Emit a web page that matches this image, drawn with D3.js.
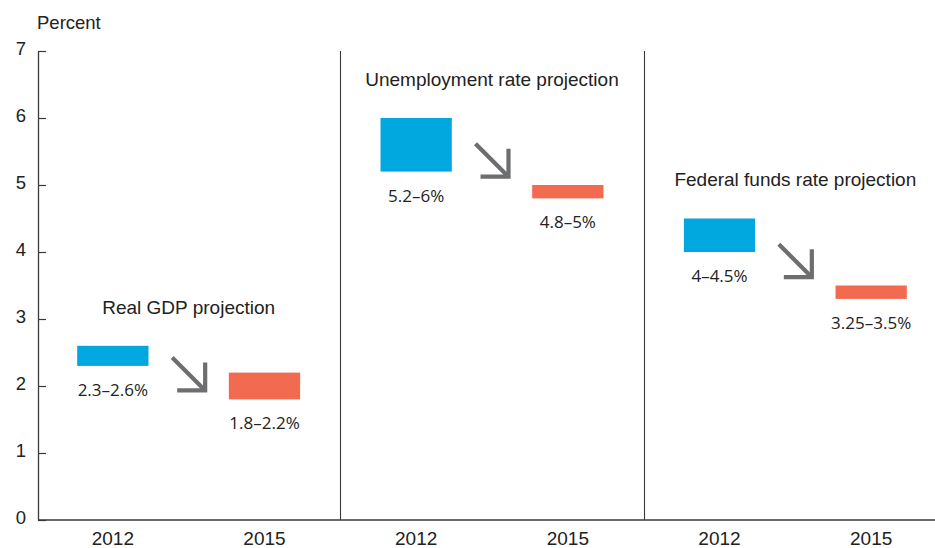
<!DOCTYPE html>
<html>
<head>
<meta charset="utf-8">
<script src="https://cdn.jsdelivr.net/npm/d3@7"></script>
<style>
  html, body { margin: 0; padding: 0; background: #fff; }
  svg { display: block; }
</style>
</head>
<body>
<svg id="chart" width="935" height="548"></svg>
<script>
// ---- data ----
const panels = ["Real GDP projection", "Unemployment rate projection", "Federal funds rate projection"];
const years = ["2012", "2015"];
const lowValues  = [2.3, 1.8, 5.2, 4.8, 4.0, 3.3];
const highValues = [2.6, 2.2, 6.0, 5.0, 4.5, 3.5];
const rangeLabels = ["2.3–2.6%", "1.8–2.2%", "5.2–6%", "4.8–5%", "4–4.5%", "3.25–3.5%"];
const titleLevels = [3.07, 6.48, 4.99];
const arrowLevels = [2.18, 5.37, 3.87];
const yTicks = [0, 1, 2, 3, 4, 5, 6, 7];
const yLabel = "Percent";

// ---- layout ----
(function () {
const svg = d3.select("#chart");
const W = 935;
const mLeft = 38, mTop = 51, mBottom = 520;
const sans = "Liberation Sans, Arial, sans-serif";

const keys = [];
panels.forEach((p, i) => years.forEach(yr => keys.push(i + "-" + yr)));

const x = d3.scaleBand().domain(keys).range([37, 947]).paddingInner(0.53).paddingOuter(0.265);
const y = d3.scaleLinear().domain([0, 7]).range([mBottom, mTop]);

const axisColor = "#3a3a3a";
const blue = "#00a8df";
const red = "#f26b50";
const arrowColor = "#6d6e70";

// y axis
const yAxis = d3.axisLeft(y).tickValues(yTicks).tickFormat(d3.format("d"))
  .tickSizeInner(-8).tickSizeOuter(0).tickPadding(12);
const gy = svg.append("g").attr("transform", `translate(${mLeft},0)`).call(yAxis);
gy.select(".domain").attr("stroke", axisColor).attr("stroke-width", 1.3);
gy.selectAll(".tick line").attr("stroke", axisColor).attr("stroke-width", 1.2);
gy.selectAll(".tick text").attr("font-family", sans)
  .attr("font-size", 18.5).attr("fill", "#222").attr("dy", "0.2em");

svg.append("text").attr("x", 37).attr("y", 29).text(yLabel)
  .attr("font-family", sans).attr("font-size", 18.5).attr("fill", "#222");

// x baseline
svg.append("line").attr("x1", mLeft).attr("x2", W).attr("y1", y(0)).attr("y2", y(0))
  .attr("stroke", axisColor).attr("stroke-width", 1.3);

// separators
[1, 2].forEach(i => {
  const sx = Math.round((x(keys[i * 2 - 1]) + x.bandwidth() + x(keys[i * 2])) / 2) + 0.5;
  svg.append("line").attr("x1", sx).attr("x2", sx).attr("y1", y(7)).attr("y2", y(0))
    .attr("stroke", axisColor).attr("stroke-width", 1.1);
});

// year labels
svg.append("g").selectAll("text").data(keys).join("text")
  .attr("x", d => x(d) + x.bandwidth() / 2)
  .attr("y", 545)
  .attr("text-anchor", "middle")
  .attr("font-family", sans)
  .attr("font-size", 19).attr("fill", "#222")
  .text(d => d.split("-")[1]);

// bars
svg.append("g").selectAll("rect").data(keys).join("rect")
  .attr("x", d => x(d))
  .attr("width", x.bandwidth())
  .attr("y", (d, i) => y(highValues[i]))
  .attr("height", (d, i) => y(lowValues[i]) - y(highValues[i]))
  .attr("fill", (d, i) => i % 2 === 0 ? blue : red);

// range labels
svg.append("g").selectAll("text").data(keys).join("text")
  .attr("x", d => x(d) + x.bandwidth() / 2)
  .attr("y", (d, i) => y(lowValues[i]) + 30)
  .attr("text-anchor", "middle")
  .attr("font-family", "Open Sans, Noto Sans, sans-serif")
  .attr("font-size", 17).attr("fill", "#222")
  .text((d, i) => rangeLabels[i]);

// panel titles and arrows
panels.forEach((p, i) => {
  const a = keys[i * 2], b = keys[i * 2 + 1];
  const cx = (x(a) + x.bandwidth() + x(b)) / 2;
  svg.append("text").attr("x", cx).attr("y", y(titleLevels[i]))
    .attr("text-anchor", "middle")
    .attr("font-family", sans)
    .attr("font-size", 19).attr("fill", "#222").text(p);

  const cy = y(arrowLevels[i]);
  const h = 16.5;
  const g = svg.append("g").attr("stroke", arrowColor).attr("stroke-width", 4.2).attr("fill", "none");
  g.append("line").attr("x1", cx - h).attr("y1", cy - h).attr("x2", cx + h - 1).attr("y2", cy + h - 1);
  g.append("polyline")
    .attr("points", `${cx + h},${cy - h + 5} ${cx + h},${cy + h} ${cx - h + 5},${cy + h}`)
    .attr("stroke-linejoin", "miter");
});
})();
</script>
</body>
</html>
